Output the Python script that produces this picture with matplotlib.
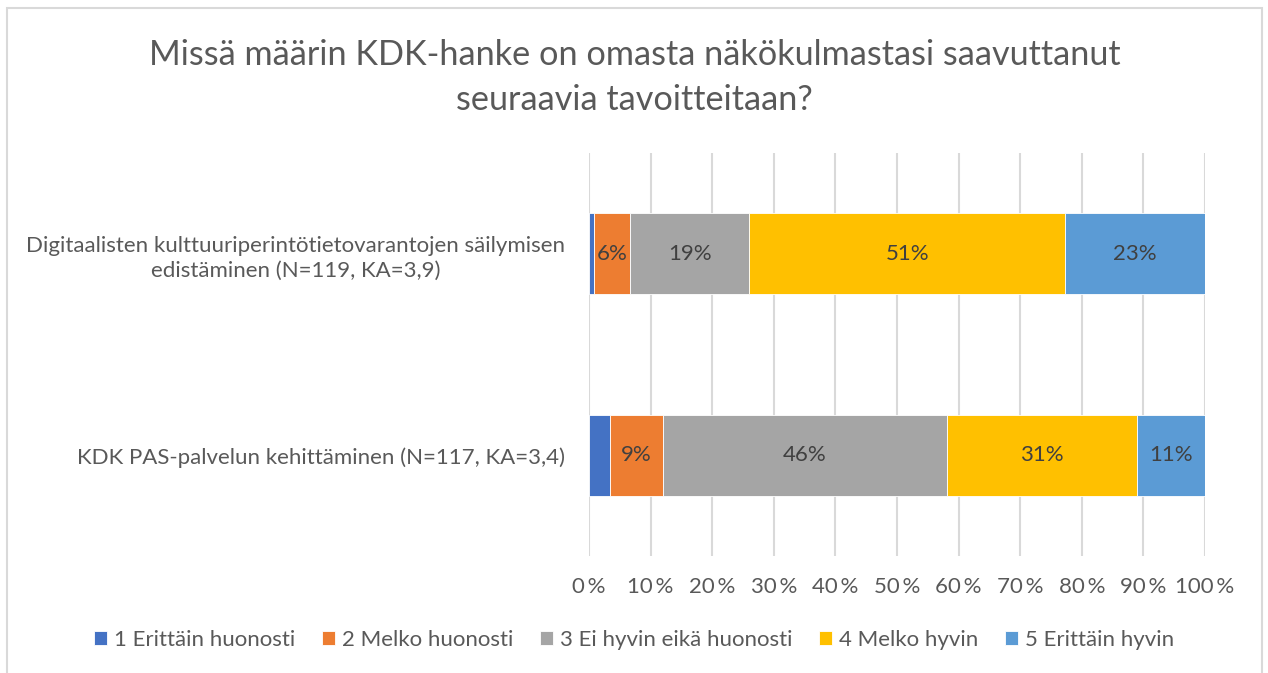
import matplotlib
matplotlib.use("Agg")
import matplotlib.pyplot as plt
from matplotlib.patches import Rectangle
from matplotlib.ticker import MultipleLocator, FuncFormatter

plt.rcParams['font.family'] = ['Lato', 'DejaVu Sans']

# data (percent of respondents)
categories = [
    "Digitaalisten kulttuuriperintötietovarantojen säilymisen\nedistäminen (N=119, KA=3,9)",
    "KDK PAS-palvelun kehittäminen (N=117, KA=3,4)",
]
series_names = [
    "1 Erittäin huonosti",
    "2 Melko huonosti",
    "3 Ei hyvin eikä huonosti",
    "4 Melko hyvin",
    "5 Erittäin hyvin",
]
very_poor = [0.8, 3.4]
fairly_poor = [5.9, 8.55]
neutral = [19.3, 46.15]
fairly_good = [51.3, 30.8]
very_good = [22.7, 11.1]
series_values = [very_poor, fairly_poor, neutral, fairly_good, very_good]
show_labels = [False, True, True, True, True]

colors = ["#4472c4", "#ed7d31", "#a5a5a5", "#ffc000", "#5b9bd5"]
text_col = "#595959"
fs = 16

fig = plt.figure(figsize=(12.68, 6.73), dpi=100)
ax = fig.add_axes([589 / 1268, 117 / 673, 616 / 1268, 403 / 673])

ypos = list(range(len(categories)))
left = [0.0] * len(categories)
for name, vals, col, lab in zip(series_names, series_values, colors, show_labels):
    bars = ax.barh(ypos, vals, left=left, height=0.4, color=col, label=name,
                   edgecolor="white", linewidth=0.6, zorder=3)
    if lab:
        for b, v in zip(bars, vals):
            ax.text(b.get_x() + b.get_width() / 2, b.get_y() + b.get_height() / 2,
                    f"{v:.0f}%", ha="center", va="center", fontsize=fs,
                    color="#404040", zorder=4)
    left = [l + v for l, v in zip(left, vals)]

ax.set_xlim(0, 100)
ax.set_ylim(len(categories) - 0.5, -0.5)
ax.set_yticks(ypos)
ax.set_yticklabels(categories, fontsize=fs, color=text_col, linespacing=1.35)
ax.tick_params(axis="y", length=0, pad=17)
for t in ax.get_yticklabels():
    t.set_multialignment("center")
ax.xaxis.set_major_locator(MultipleLocator(10))
ax.xaxis.set_major_formatter(FuncFormatter(lambda v, p: f"{v:.0f}\u2009%"))
ax.tick_params(axis="x", length=0, pad=15, labelsize=fs, labelcolor=text_col)
ax.grid(axis="x", color="#d9d9d9", linewidth=1.5, zorder=0)
for s in ax.spines.values():
    s.set_visible(False)

fig.text(0.5005, 1 - 55 / 673, "Missä määrin KDK-hanke on omasta näkökulmastasi saavuttanut",
         ha="center", va="center", fontsize=24.7, color=text_col)
fig.text(0.5005, 1 - 100 / 673, "seuraavia tavoitteitaan?",
         ha="center", va="center", fontsize=24.7, color=text_col)

fig.legend(loc="center", bbox_to_anchor=(0.5, 1 - 640 / 673), ncol=5, frameon=False,
           fontsize=fs, labelcolor=text_col, handlelength=0.6, handleheight=0.6,
           handletextpad=0.3, columnspacing=1.2)

fig.patches.append(Rectangle((7 / 1268, -0.1), 1255 / 1268, 1.1 - 8 / 673,
                             transform=fig.transFigure, fill=False,
                             edgecolor="#d9d9d9", linewidth=1.5))

fig.savefig("out.png", dpi=100)
